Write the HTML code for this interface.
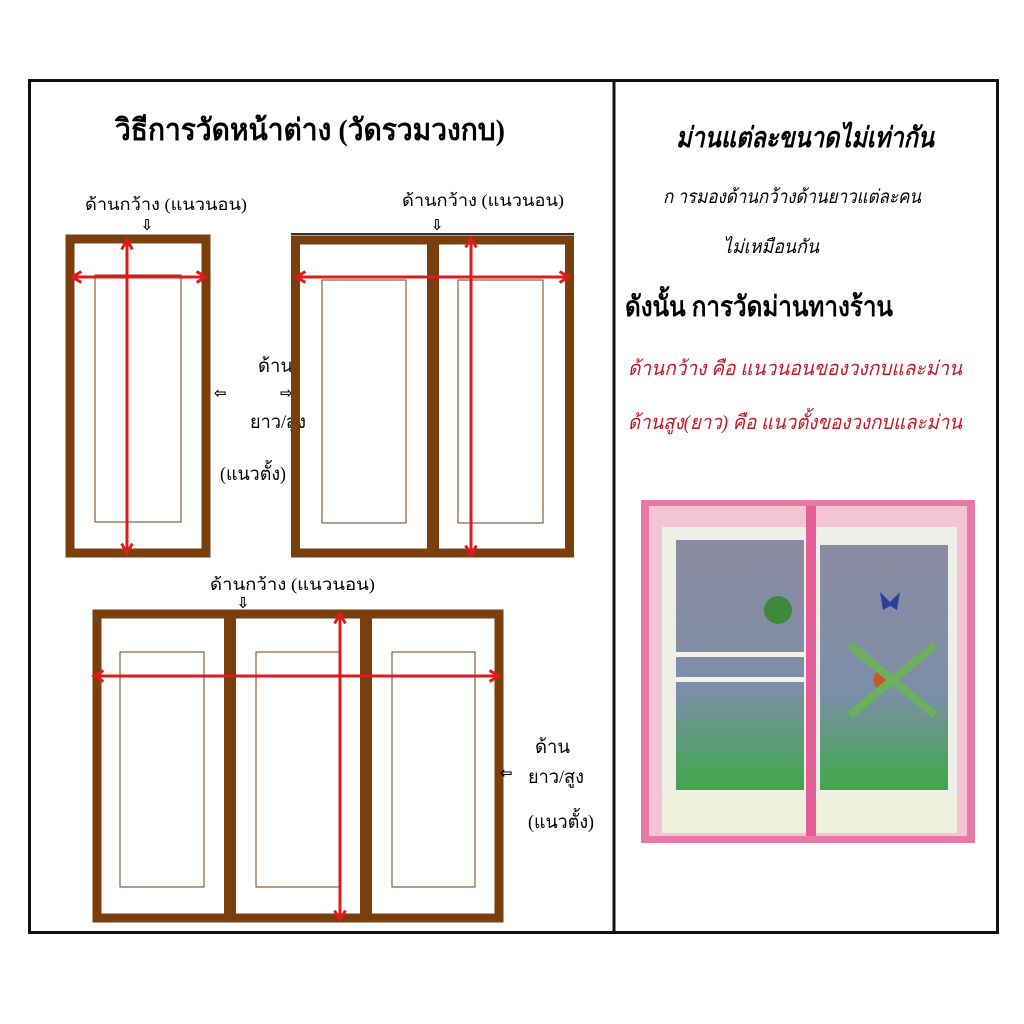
<!DOCTYPE html>
<html><head><meta charset="utf-8"><style>
html,body{margin:0;padding:0;background:#fff;width:1024px;height:1024px;overflow:hidden}
svg text{font-family:"Liberation Serif","DejaVu Sans",serif;}
</style></head><body>
<svg width="1024" height="1024" viewBox="0 0 1024 1024" xmlns="http://www.w3.org/2000/svg">
<defs>
<marker id="ah" viewBox="0 0 10 10" refX="8" refY="5" markerWidth="4.5" markerHeight="5.5" orient="auto-start-reverse">
<path d="M1,1 L8,5 L1,9" fill="none" stroke="#e01b1b" stroke-width="2.2"/>
</marker>
<linearGradient id="gr" x1="0" y1="0" x2="0" y2="1">
<stop offset="0" stop-color="#8b8aa0"/><stop offset="0.6" stop-color="#7c8fa8"/><stop offset="1" stop-color="#3fa84a"/>
</linearGradient>
</defs>
<rect x="29.5" y="80.5" width="968" height="852" fill="none" stroke="#111" stroke-width="3"/>
<line x1="614" y1="80" x2="614" y2="933" stroke="#111" stroke-width="3"/>

<text x="310" y="140" font-size="30" font-weight="bold" text-anchor="middle" textLength="390" lengthAdjust="spacingAndGlyphs">วิธีการวัดหน้าต่าง (วัดรวมวงกบ)</text>

<text x="85" y="210" font-size="17" textLength="162" lengthAdjust="spacingAndGlyphs">ด้านกว้าง (แนวนอน)</text>
<text x="147" y="230" font-size="15" font-weight="bold" text-anchor="middle">⇩</text>
<text x="402" y="206" font-size="17" textLength="162" lengthAdjust="spacingAndGlyphs">ด้านกว้าง (แนวนอน)</text>
<text x="437" y="230" font-size="15" font-weight="bold" text-anchor="middle">⇩</text>

<rect x="70" y="239" width="136" height="314" fill="none" stroke="#7a3f0c" stroke-width="9"/>
<rect x="95" y="275" width="86" height="247" fill="none" stroke="#7a3f0c" stroke-width="1"/>
<line x1="72" y1="277" x2="206" y2="277" stroke="#e01b1b" stroke-width="3" marker-start="url(#ah)" marker-end="url(#ah)"/>
<line x1="127" y1="240" x2="127" y2="553" stroke="#e01b1b" stroke-width="3" marker-start="url(#ah)" marker-end="url(#ah)"/>

<text x="258" y="372" font-size="19" textLength="35" lengthAdjust="spacingAndGlyphs">ด้าน</text>
<text x="250" y="428" font-size="19" textLength="56" lengthAdjust="spacingAndGlyphs">ยาว/สูง</text>
<text x="220" y="480" font-size="19" textLength="66" lengthAdjust="spacingAndGlyphs">(แนวตั้ง)</text>
<text x="214" y="398" font-size="15" font-weight="bold">⇦</text>
<text x="280" y="398" font-size="15" font-weight="bold">⇨</text>

<line x1="291" y1="234" x2="574" y2="234" stroke="#333" stroke-width="2"/>
<rect x="295.5" y="240" width="274" height="313" fill="none" stroke="#7a3f0c" stroke-width="9"/>
<rect x="427" y="240" width="12" height="313" fill="#7a3f0c"/>
<rect x="322" y="280" width="84" height="243" fill="none" stroke="#7a3f0c" stroke-width="1"/>
<rect x="458" y="280" width="85" height="243" fill="none" stroke="#7a3f0c" stroke-width="1"/>
<line x1="296" y1="277" x2="569" y2="277" stroke="#e01b1b" stroke-width="3" marker-start="url(#ah)" marker-end="url(#ah)"/>
<line x1="471" y1="238" x2="471" y2="555" stroke="#e01b1b" stroke-width="3" marker-start="url(#ah)" marker-end="url(#ah)"/>

<text x="210" y="590" font-size="17" textLength="165" lengthAdjust="spacingAndGlyphs">ด้านกว้าง (แนวนอน)</text>
<text x="243" y="608" font-size="15" font-weight="bold" text-anchor="middle">⇩</text>

<rect x="97" y="614" width="402" height="304" fill="none" stroke="#7a3f0c" stroke-width="9"/>
<rect x="224" y="614" width="12" height="304" fill="#7a3f0c"/>
<rect x="360" y="614" width="12" height="304" fill="#7a3f0c"/>
<rect x="120" y="652" width="84" height="235" fill="none" stroke="#7a3f0c" stroke-width="1"/>
<rect x="256" y="652" width="84" height="235" fill="none" stroke="#7a3f0c" stroke-width="1"/>
<rect x="392" y="652" width="83" height="235" fill="none" stroke="#7a3f0c" stroke-width="1"/>
<line x1="94" y1="676" x2="499" y2="676" stroke="#e01b1b" stroke-width="3" marker-start="url(#ah)" marker-end="url(#ah)"/>
<line x1="340" y1="614" x2="340" y2="920" stroke="#e01b1b" stroke-width="3" marker-start="url(#ah)" marker-end="url(#ah)"/>

<text x="535" y="753" font-size="19" textLength="35" lengthAdjust="spacingAndGlyphs">ด้าน</text>
<text x="528" y="783" font-size="19" textLength="56" lengthAdjust="spacingAndGlyphs">ยาว/สูง</text>
<text x="528" y="828" font-size="19" textLength="66" lengthAdjust="spacingAndGlyphs">(แนวตั้ง)</text>
<text x="500" y="778" font-size="15" font-weight="bold">⇦</text>

<text x="805" y="147" font-size="28" font-weight="bold" font-style="italic" text-anchor="middle" textLength="258" lengthAdjust="spacingAndGlyphs">ม่านแต่ละขนาดไม่เท่ากัน</text>
<text x="663" y="203" font-size="19" font-style="italic" textLength="258" lengthAdjust="spacingAndGlyphs">ก ารมองด้านกว้างด้านยาวแต่ละคน</text>
<text x="723" y="253" font-size="19" font-style="italic" textLength="96" lengthAdjust="spacingAndGlyphs">ไม่เหมือนกัน</text>
<text x="625" y="316" font-size="28" font-weight="bold" textLength="268" lengthAdjust="spacingAndGlyphs">ดังนั้น การวัดม่านทางร้าน</text>
<text x="628" y="375" font-size="20" font-style="italic" fill="#c0182a" textLength="334" lengthAdjust="spacingAndGlyphs">ด้านกว้าง คือ แนวนอนของวงกบและม่าน</text>
<text x="628" y="429" font-size="20" font-style="italic" fill="#c0182a" textLength="334" lengthAdjust="spacingAndGlyphs">ด้านสูง(ยาว) คือ แนวตั้งของวงกบและม่าน</text>

<rect x="641" y="500" width="334" height="343" fill="#f3c4d4"/>
<rect x="662" y="527" width="295" height="290" fill="#eef0e8"/>
<rect x="676" y="540" width="128" height="250" fill="url(#gr)"/>
<rect x="820" y="545" width="128" height="245" fill="url(#gr)"/>
<rect x="676" y="652" width="128" height="5" fill="#f2f2ea"/>
<rect x="676" y="677" width="128" height="5" fill="#f2f2ea"/>
<rect x="662" y="795" width="295" height="38" fill="#eef0dc"/>
<rect x="806" y="502" width="10" height="340" fill="#e35d96"/>
<rect x="641" y="500" width="8" height="343" fill="#e67aa5"/>
<rect x="967" y="500" width="8" height="343" fill="#e67aa5"/>
<rect x="641" y="500" width="334" height="6" fill="#e67aa5"/>
<rect x="641" y="836" width="334" height="7" fill="#e67aa5"/>
<path d="M880 592 l10 10 l10 -10 l-3 18 l-7 -4 l-7 4z" fill="#2d3f9a"/>
<circle cx="778" cy="610" r="14" fill="#3c8a3a"/>
<circle cx="883" cy="680" r="10" fill="#c05a2a"/>
<path d="M850 645 L935 715 M850 715 L935 645" stroke="#6bb05a" stroke-width="8"/>
</svg>
</body></html>
